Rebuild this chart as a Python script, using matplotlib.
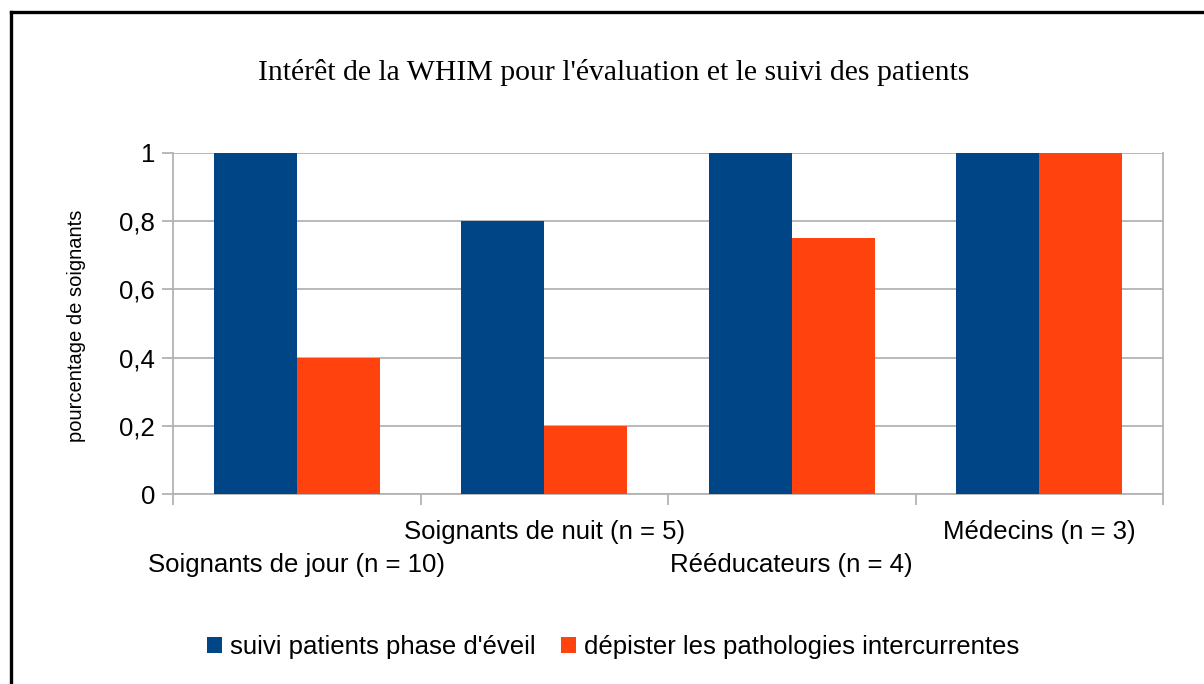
import numpy as np
import matplotlib
matplotlib.use("Agg")
import matplotlib.pyplot as plt
from matplotlib.lines import Line2D
from matplotlib.patches import Patch
import matplotlib.transforms as mtransforms

title = "Intérêt de la WHIM pour l'évaluation et le suivi des patients"
categories = [
    "Soignants de jour (n = 10)",
    "Soignants de nuit (n = 5)",
    "Rééducateurs (n = 4)",
    "Médecins (n = 3)",
]
series_names = ["suivi patients phase d'éveil", "dépister les pathologies intercurrentes"]
suivi = [1.0, 0.8, 1.0, 1.0]
depister = [0.4, 0.2, 0.75, 1.0]
yticks = [0, 0.2, 0.4, 0.6, 0.8, 1.0]
ylabels = ["0", "0,2", "0,4", "0,6", "0,8", "1"]

BLUE = "#004586"
ORANGE = "#ff420e"
GRID = "#b3b3b3"
W, H = 1204, 684

plt.rcParams["font.family"] = ["Liberation Sans", "DejaVu Sans"]

fig = plt.figure(figsize=(W / 100, H / 100), dpi=100)
ax = fig.add_axes([173 / W, 1 - 494 / H, 990 / W, 341 / H])

x = np.arange(len(categories))
bw = 0.335
ax.bar(x - bw / 2, suivi, bw, color=BLUE, zorder=3)
ax.bar(x + bw / 2, depister, bw, color=ORANGE, zorder=3)

ax.set_xlim(-0.5, len(categories) - 0.5)
ax.set_ylim(0, 1)
ax.set_yticks(yticks)
ax.set_yticklabels(ylabels, fontsize=18.5)
ax.set_xticks(np.arange(len(categories) + 1) - 0.5)
ax.set_xticklabels([])
ax.yaxis.grid(True, color=GRID, lw=1.3, zorder=0)
ax.tick_params(axis="both", length=8, width=1.3, color=GRID, direction="out")
ax.tick_params(axis="y", pad=5)
for side in ["left", "right", "bottom"]:
    ax.spines[side].set_color(GRID)
    ax.spines[side].set_linewidth(1.3)
ax.spines["top"].set_visible(False)

# staggered category labels
trans = mtransforms.blended_transform_factory(ax.transData, fig.transFigure)
baselines = [572, 539]
for i, lab in enumerate(categories):
    ax.text(x[i], 1 - baselines[i % 2] / H, lab, transform=trans,
            ha="center", va="baseline", fontsize=18.5, color="black")

fig.text(77 / W, 1 - 326 / H, "pourcentage de soignants", rotation=90,
         ha="center", va="center", fontsize=14.5)
fig.text(614 / W, 1 - 72 / H, title, ha="center", va="center",
         fontsize=21.4, family=["Liberation Serif", "DejaVu Serif"])

handles = [Patch(facecolor=BLUE), Patch(facecolor=ORANGE)]
fig.legend(handles, series_names, loc="center", bbox_to_anchor=(613 / W, 1 - 647 / H),
           ncol=2, frameon=False, fontsize=18.5, handlelength=0.6, handleheight=0.6,
           handletextpad=0.3, columnspacing=1.0, borderaxespad=0)

# outer frame (only left and top edges visible)
fig.add_artist(Line2D([11 / W, 11 / W], [0, 1 - 12 / H], transform=fig.transFigure,
                      color="black", lw=2.4))
fig.add_artist(Line2D([11 / W, 1], [1 - 12 / H, 1 - 12 / H], transform=fig.transFigure,
                      color="black", lw=2.4))

fig.savefig("out.png", dpi=100)
